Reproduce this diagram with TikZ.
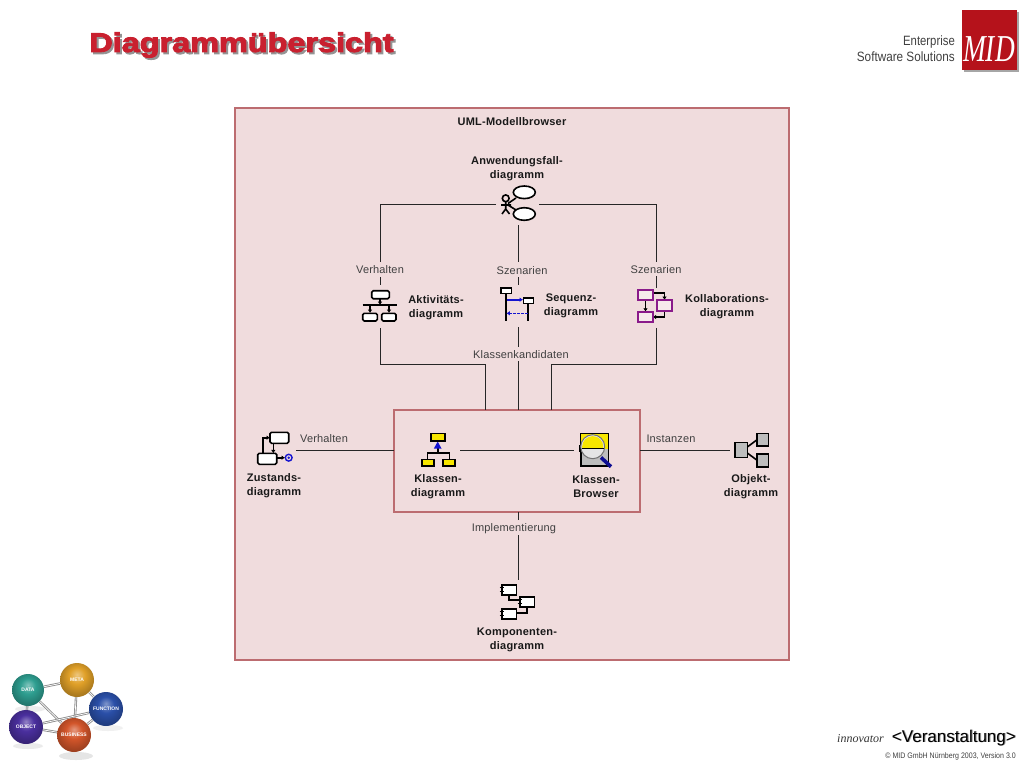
\documentclass[tikz,border=0pt]{standalone}
\usepackage{fontspec}
\usepackage{graphicx}
\setmainfont{Liberation Sans}
\newfontfamily\serifit[Ligatures=TeX]{Liberation Serif}
\newfontfamily\heavyfont[FakeBold=3.2]{Liberation Sans Bold}
\usetikzlibrary{arrows.meta}
\pgfdeclarelayer{front}
\pgfsetlayers{main,front}
\definecolor{panelfill}{HTML}{F0DCDD}
\definecolor{panelline}{HTML}{BC6C70}
\definecolor{titlered}{HTML}{C9202F}
\definecolor{iconpurple}{HTML}{8A1A8A}
\definecolor{iconblue}{HTML}{1414D0}
\definecolor{iconyellow}{HTML}{F7E600}
\definecolor{icongrey}{HTML}{BDBDBD}
\definecolor{midred}{HTML}{B5121B}
\definecolor{bTeal}{HTML}{2E9E90}
\definecolor{bMeta}{HTML}{E0A028}
\definecolor{bFunc}{HTML}{2A4FA8}
\definecolor{bObj}{HTML}{4A2F9E}
\definecolor{bBus}{HTML}{D2552A}
\newcommand\mkball[2]{\pgfdeclareradialshading{#1}{\pgfqpoint{0bp}{8bp}}{color(0bp)=(#2!60!white); color(12bp)=(#2); color(25bp)=(#2!78!black); color(50bp)=(#2!50!black)}}
\mkball{ballTeal}{bTeal}
\mkball{ballMeta}{bMeta}
\mkball{ballFunc}{bFunc}
\mkball{ballObj}{bObj}
\mkball{ballBus}{bBus}
\tikzset{
  x=1pt,y=-1pt,
  panel/.style={draw=panelline,line width=2.5pt,fill=panelfill},
  conn/.style={draw=black!85,line width=1pt},
  lbl/.style={font=\fontsize{11}{13.5}\selectfont\addfontfeature{LetterSpace=1.5},text=black!75,inner sep=0pt,minimum height=13pt,minimum width=30pt},
  dname/.style={font=\fontsize{11}{13.8}\selectfont\bfseries\addfontfeature{LetterSpace=2},text=black!90,align=center,inner sep=0pt},
  ic/.style={draw=black,line width=1.6pt},
  tip/.style={-{Latex[length=3.4pt,width=4.6pt]}},
  sphere/.style={circle,inner sep=0pt,minimum size=34pt,shading=#1,text=white,font=\fontsize{5}{5}\selectfont\bfseries},
  stick/.style={draw=black!45,line width=2.4pt},
  stickhi/.style={draw=white,line width=0.7pt},
}
\begin{document}
\begin{tikzpicture}
\useasboundingbox[fill=white] (0,0) rectangle (1024,768);

% Title
\node[inner sep=0pt,text=black!42,font=\fontsize{27}{30}\selectfont\heavyfont] at (243.5,47) {\scalebox{1.2}[1]{Diagrammübersicht}};
\node[inner sep=0pt,text=titlered,font=\fontsize{27}{30}\selectfont\heavyfont] (title) at (241.5,45) {\scalebox{1.2}[1]{Diagrammübersicht}};

% MID logo
\fill[black!35] (964,12) rectangle (1019,72);
\fill[midred] (962,10) rectangle (1017,70);
\node[inner sep=0pt,text=white,font=\fontsize{38}{38}\selectfont\serifit\itshape] (mid) at (989,49) {\scalebox{0.72}[1]{MID}};
\node[inner sep=0pt,anchor=east,text=black!75,font=\fontsize{13.5}{14}\selectfont] (ent) at (955,42) {\scalebox{0.84}[1]{Enterprise}};
\node[inner sep=0pt,anchor=east,text=black!75,font=\fontsize{13.5}{14}\selectfont] (sws) at (955,57) {\scalebox{0.87}[1]{Software Solutions}};

% Panels
\path[panel] (235,108) rectangle (789,660);
\path[panel] (394,410) rectangle (640,512);
\coordinate (boxN1) at (485,410);
\coordinate (boxN2) at (518,410);
\coordinate (boxN3) at (551,410);
\coordinate (boxW) at (394,450);
\coordinate (boxE) at (640,450);
\coordinate (boxS) at (518,512);

\node[dname] (head) at (512,122) {UML-Modellbrowser};

% Diagram names
\node[dname] (ucT) at (517,168.5) {Anwendungsfall-\\diagramm};
\node[dname] (acT) at (436,308) {Aktivitäts-\\diagramm};
\node[dname] (sqT) at (571,305.5) {Sequenz-\\diagramm};
\node[dname] (coT) at (727,307) {Kollaborations-\\diagramm};
\node[dname] (stT) at (274,485.5) {Zustands-\\diagramm};
\node[dname] (clT) at (438,486.5) {Klassen-\\diagramm};
\node[dname] (brT) at (596,486.5) {Klassen-\\Browser};
\node[dname] (obT) at (751,486.5) {Objekt-\\diagramm};
\node[dname] (kmT) at (517,639.5) {Komponenten-\\diagramm};

% Edge labels
\node[lbl] (lA) at (380,269.5) {Verhalten};
\node[lbl] (lB) at (522,270.5) {Szenarien};
\node[lbl] (lC) at (656,269.5) {Szenarien};
\node[lbl] (lK) at (521,354.5) {Klassenkandidaten};
\node[lbl] (lV) at (324,438.5) {Verhalten};
\node[lbl] (lI) at (671,438.5) {Instanzen};
\node[lbl] (lM) at (514,528.5) {Implementierung};

% Icon anchors (connector ends)
\coordinate (ucW) at (496,204);
\coordinate (ucE) at (539,204);
\coordinate (ucS) at (518,225);
\coordinate (acN) at (380,285);
\coordinate (acS) at (380,328);
\coordinate (sqN) at (518,285);
\coordinate (sqS) at (518,327);
\coordinate (coN) at (656,288);
\coordinate (coS) at (656,328);
\coordinate (stE) at (296,450);
\coordinate (clE) at (460,450);
\coordinate (brW) at (574,450);
\coordinate (obW) at (730,450);
\coordinate (kmN) at (518,580);
\coordinate (lAn) at (380,262);
\coordinate (lAs) at (380,277);
\coordinate (lBn) at (518,262);
\coordinate (lBs) at (518,277);
\coordinate (lCn) at (656,262);
\coordinate (lCs) at (656,276);
\coordinate (lKn) at (518,347);
\coordinate (lKs) at (518,361);
\coordinate (lMs) at (518,535);
\coordinate (lMn) at (518,520);

% Connectors
\draw[conn] (ucW) -| (lAn);
\draw[conn] (lAs) -- (acN);
\draw[conn] (ucS) -- (lBn);
\draw[conn] (lBs) -- (sqN);
\draw[conn] (ucE) -| (lCn);
\draw[conn] (lCs) -- (coN);
\draw[conn] (acS) |- (485,364) -- (boxN1);
\draw[conn] (sqS) -- (lKn);
\draw[conn] (lKs) -- (boxN2);
\draw[conn] (coS) |- (551,364) -- (boxN3);
\draw[conn] (stE) -- (boxW);
\draw[conn] (clE) -- (brW);
\draw[conn] (boxE) -- (obW);
\draw[conn] (boxS) -- (lMn);
\draw[conn] (lMs) -- (kmN);

% Use-case icon
\draw[ic,fill=white] (524.3,192.3) ellipse [x radius=11,y radius=6.3];
\draw[ic,fill=white] (524.3,214) ellipse [x radius=11,y radius=6.3];
\draw[ic] (505.7,198.3) circle (3.4);
\draw[ic] (505.7,202) -- (505.7,209) (501,205) -- (511,205) (505.7,209) -- (502,214) (505.7,209) -- (509.5,214);
\draw[ic] (508,203.5) -- (516,198) (508,205) -- (516,210);

% Activity icon
\draw[ic,fill=white,rounded corners=1.5pt] (371.7,290.7) rectangle (389.3,298.7);
\draw[ic,line width=1.8pt] (362.7,305.3) -- (396.7,305.3);
\draw[ic,tip] (380,298.7) -- (380,305);
\draw[ic,tip] (370,305.3) -- (370,313);
\draw[ic,tip] (389,305.3) -- (389,313);
\draw[ic,fill=white,rounded corners=1.5pt] (362.7,313.3) rectangle (377.3,321);
\draw[ic,fill=white,rounded corners=1.5pt] (381.7,313.3) rectangle (396,321);

% Sequence icon
\draw[ic,line width=1.9pt] (505.7,293) -- (505.7,321);
\draw[ic,line width=1.9pt] (528.3,303) -- (528.3,321);
\draw[ic,fill=white] (500.7,287.7) rectangle (511.3,293.3);
\draw[ic,fill=white] (523.3,298) rectangle (533.3,303.3);
\draw[iconblue,line width=1.6pt,tip] (506.5,299.7) -- (523,299.7);
\draw[iconblue,line width=1.6pt,tip,dash pattern=on 2.5pt off 1.5pt] (527.5,313.3) -- (506.5,313.3);

% Collaboration icon
\draw[ic,tip] (652.7,293) -| (664.5,300);
\draw[ic,tip] (645.5,300) -- (645.5,311.7);
\draw[ic,tip] (664.5,310.7) |- (652.7,317);
\draw[iconpurple,line width=1.7pt,fill=panelfill!60!white] (638.3,290) rectangle (652.7,300);
\draw[iconpurple,line width=1.7pt,fill=panelfill!60!white] (657.3,300) rectangle (671.7,310.7);
\draw[iconpurple,line width=1.7pt,fill=panelfill!60!white] (638.3,311.7) rectangle (652.7,322.3);

% State icon
\draw[ic,tip] (262.7,453.3) |- (270,437.7);
\draw[ic,tip] (273.3,443.3) -- (273.3,453.3);
\draw[ic,tip] (276.7,457.7) -- (285,457.7);
\draw[ic,fill=white,rounded corners=1.5pt] (270,432.3) rectangle (288.7,443.3);
\draw[ic,fill=white,rounded corners=1.5pt] (257.7,453.3) rectangle (276.7,464.3);
\draw[iconblue,line width=1.4pt] (288.7,457.7) circle (3.4);
\fill[iconblue] (288.7,457.7) circle (1.4);

% Class diagram icon
\draw[ic] (437.7,447) -- (437.7,452.7) (427.3,459.3) |- (449.3,452.7) -- (449.3,459.3);
\fill[iconblue] (437.7,441.5) -- (441.5,448.5) -- (433.9,448.5) -- cycle;
\draw[ic,fill=iconyellow] (430.7,433.3) rectangle (444.7,440.7);
\draw[ic,fill=iconyellow] (421.7,459.3) rectangle (434,466);
\draw[ic,fill=iconyellow] (442.7,459.3) rectangle (455,466);

% Class browser icon
\draw[ic,fill=icongrey] (580.7,433.3) rectangle (608.3,466);
\fill[iconyellow] (581.4,434) rectangle (607.6,449);
\fill[black] (578.5,445) rectangle (581,452);
\draw[iconblue!70!black,line width=3.6pt] (601,457.5) -- (611,466.7);
\fill[white!90!black] (592.7,446.7) circle (12);
\begin{scope}
  \clip (580,434) rectangle (606,447.5);
  \fill[iconyellow] (592.7,446.7) circle (10.6);
\end{scope}
\draw[black!55,line width=1pt] (592.7,446.7) circle (12);
\draw[black,line width=1.4pt] (582,448.3) -- (603.5,448.3);

% Object icon
\draw[ic] (747.3,447) -- (756.7,440) (747.3,453) -- (756.7,460);
\draw[ic,fill=icongrey] (735,442.3) rectangle (747.3,457.3);
\draw[ic,fill=icongrey] (756.7,433.3) rectangle (768.3,445.7);
\draw[ic,fill=icongrey] (756.7,454) rectangle (768.3,466.7);

% Component icon
\draw[ic,line width=1.8pt] (509,595) |- (520,600);
\draw[ic,line width=1.8pt] (516.7,613.3) -| (526.7,607.3);
\foreach \bx/\by in {502/584.7,520/596.7,502/608.7}{
  \draw[ic,fill=white] (\bx,\by) rectangle ++(14.5,10.3);
  \draw[ic,line width=1.2pt] (\bx-2.5,\by+2.8) -- ++(4,0) (\bx-2.5,\by+6.8) -- ++(4,0);
}

% Sphere logo
\fill[black!7] (30,709) ellipse [x radius=15,y radius=3];
\fill[black!8] (28,746) ellipse [x radius=15,y radius=3];
\fill[black!10] (76,756) ellipse [x radius=17,y radius=4];
\fill[black!6] (108,728) ellipse [x radius=15,y radius=3];
\begin{pgfonlayer}{front}
\node[sphere=ballTeal,minimum size=32pt] (sData) at (28,690) {DATA};
\node[sphere=ballMeta] (sMeta) at (77,680) {META};
\node[sphere=ballFunc] (sFunc) at (106,709) {FUNCTION};
\node[sphere=ballObj] (sObj) at (26,727) {OBJECT};
\node[sphere=ballBus] (sBus) at (74,735) {BUSINESS};
\end{pgfonlayer}
\foreach \sa/\sb in {sData/sMeta,sMeta/sFunc,sFunc/sBus,sData/sObj,sObj/sBus,sData/sBus,sMeta/sBus,sObj/sFunc}{
  \draw[stick] (\sa) -- (\sb);
  \draw[stickhi] (\sa) -- (\sb);
}
% Footer
\node[inner sep=0pt,anchor=base west,text=black!80,font=\fontsize{12}{13}\selectfont\serifit\itshape] (inn) at (837,742) {innovator};
\node[inner sep=0pt,anchor=base east,text=black!40,font=\fontsize{17}{18}\selectfont] at (1017,742.6) {<Veranstaltung>};
\node[inner sep=0pt,anchor=base east,text=black,font=\fontsize{17}{18}\selectfont] (ver) at (1016,742) {<Veranstaltung>};
\node[inner sep=0pt,anchor=base east,text=black!75,font=\fontsize{8}{9}\selectfont] (copy) at (1016,758.5) {\scalebox{0.88}[1]{© MID GmbH Nürnberg 2003, Version 3.0}};
\end{tikzpicture}
\end{document}
